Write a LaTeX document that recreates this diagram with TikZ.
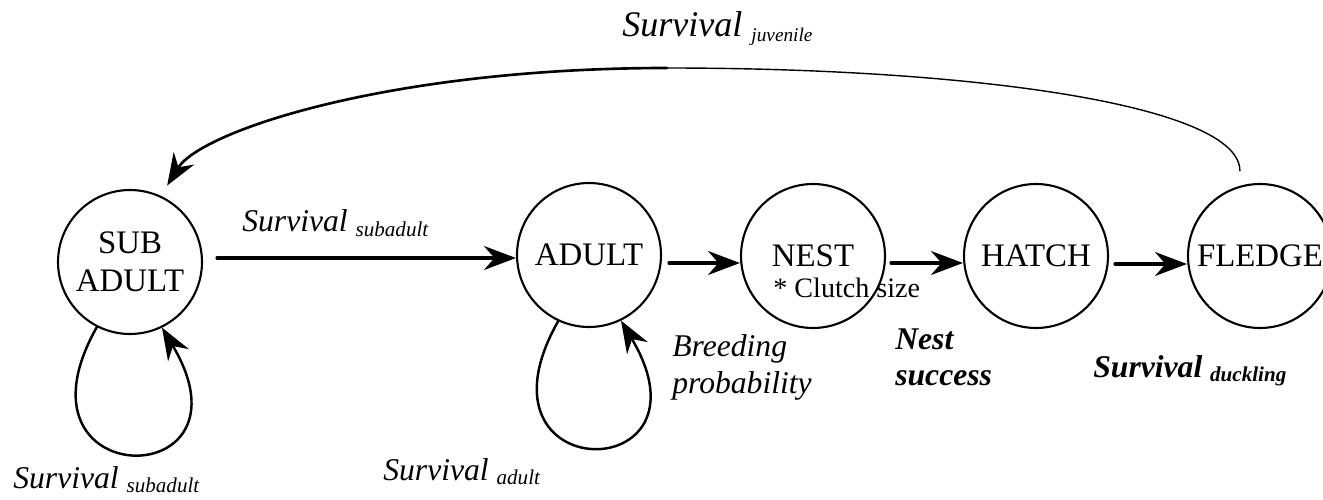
\documentclass[tikz,border=0pt]{standalone}
\usepackage{fontspec}
\setmainfont{Liberation Serif}
\usetikzlibrary{arrows.meta}
\newcommand{\surv}[2]{#1 \raisebox{-2.5pt}{\fontsize{12}{12}\selectfont #2}}

\begin{document}
\begin{tikzpicture}[line cap=round,line join=round,x=0.02cm,y=-0.02cm,
  state/.style={circle,draw,line width=1.2pt,minimum size=2.88cm,inner sep=0pt,
    align=center,font=\fontsize{18.7}{21.5}\selectfont},
  flow/.style={line width=1.8pt,-{Stealth[length=0.64cm,width=0.48cm,inset=0.21cm]}},
  lab/.style={anchor=base west,inner sep=0pt,font=\fontsize{18}{21}\selectfont\itshape},
  labtwo/.style={anchor=north west,inner sep=0pt,align=left}]
\useasboundingbox (0,0) rectangle (1323,500);
% states
\node[state] (sub) at (130,262) {SUB\\ADULT};
\node[state] (adult) at (589,255) {ADULT};
\node[state] (nest) at (813,256) {NEST};
\node[state] (hatch) at (1036,256) {HATCH};
\node[state] (fledge) at (1260,256) {FLEDGE};
% forward arrows
\draw[flow] ([shift={(14,-4)}]sub.east) -- ([shift={(0,-4)}]sub.east -| adult.west);
\draw[flow] ([shift={(7,8)}]adult.east) -- ([shift={(0,7)}]nest.west);
\draw[flow] ([shift={(5,7)}]nest.east) -- ([shift={(0,7)}]hatch.west);
\draw[flow] ([shift={(6,8)}]hatch.east) -- ([shift={(0,8)}]fledge.west);
% self loops
\draw[flow,line width=1.4pt] (sub.-117) .. controls +(-95,168) and +(100,168) .. (sub.-64);
\draw[flow,line width=1.4pt] (adult.-115) .. controls +(-95,168) and +(100,168) .. (adult.-64);
% juvenile return
\coordinate (top) at (667,68);
\draw[line width=0.8pt,shorten <=0.3cm] (fledge.106) .. controls +(0,-80) and +(310,0) .. (top);
\draw[flow,line width=1.5pt,shorten >=0.24cm] (top) .. controls +(-277,0) and +(40,-65) .. (sub.65);
% labels
\node[lab,font=\fontsize{20.5}{22}\selectfont\itshape] (ljuv) at (622,37) {Survival \raisebox{-2.5pt}{\fontsize{11}{11}\selectfont juvenile}};
\node[lab] (lsubf) at (242,232) {\surv{Survival}{subadult}};
\node[lab] (lsubl) at (13,488) {\surv{Survival}{subadult}};
\node[lab] (ladult) at (383,480) {\surv{Survival}{adult}};
\node[labtwo,font=\fontsize{18}{21}\selectfont\itshape] (lbreed) at (672,334) {Breeding\\probability};
\node[labtwo,font=\fontsize{18}{21}\selectfont\bfseries\itshape] (lnest) at (895,328) {Nest\\success};
\node[lab,font=\fontsize{18}{21}\selectfont\bfseries\itshape] (lduck) at (1093,377) {Survival \raisebox{-2.5pt}{\fontsize{12}{12}\selectfont duckling}};
\node[lab,font=\fontsize{16}{18}\selectfont] (lclutch) at (773,297) {* Clutch size};
\end{tikzpicture}
\end{document}
